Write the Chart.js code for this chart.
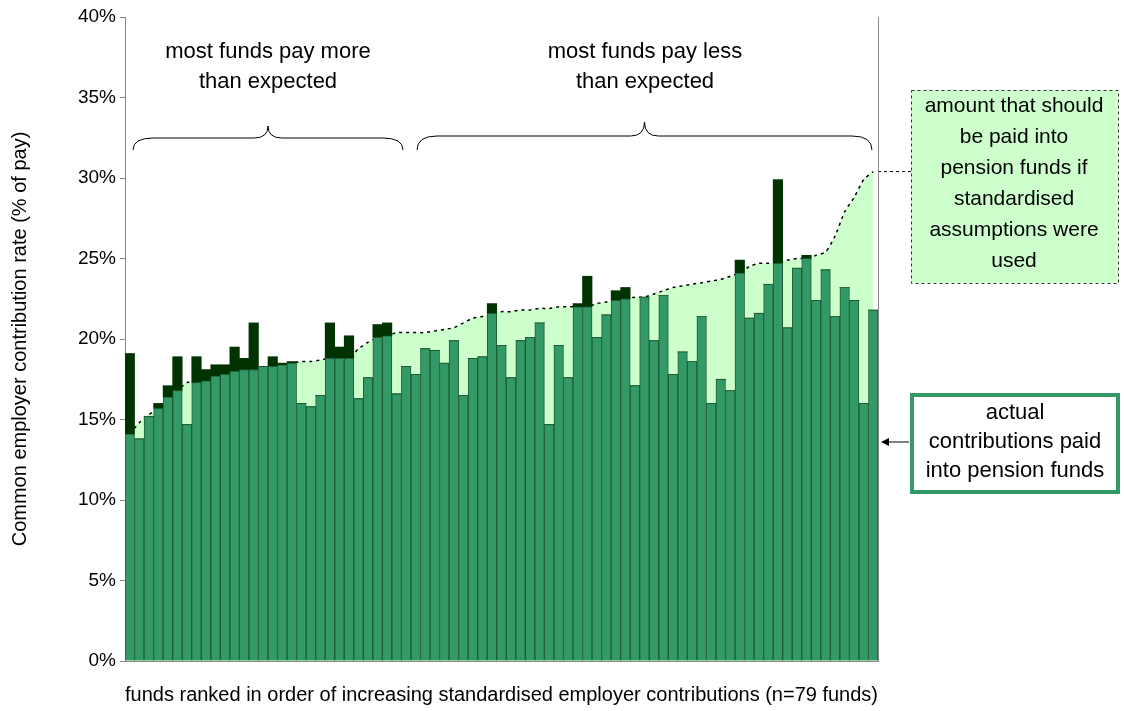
<!DOCTYPE html>
<html>
<head>
<meta charset="utf-8">
<script src="https://cdn.jsdelivr.net/npm/chart.js@4/dist/chart.umd.min.js"></script>
<style>
  html, body { margin: 0; padding: 0; background: #fff; }
  #wrap { width: 1124px; height: 711px; position: relative; }
</style>
</head>
<body>
<div id="wrap"><canvas id="chart"></canvas></div>
<script>
// standardised (expected) contribution per fund, ranked
const expected = [14.1, 14.8, 15.3, 15.7, 16.4, 16.8, 17.3, 17.3, 17.4, 17.7, 17.8, 18.0, 18.1, 18.1, 18.3, 18.3, 18.4, 18.5, 18.6, 18.6,
  18.7, 18.8, 18.8, 18.8, 19.4, 19.8, 20.1, 20.2, 20.4, 20.4, 20.4, 20.4, 20.5, 20.6, 20.7, 21.0, 21.3, 21.4, 21.6, 21.7,
  21.7, 21.8, 21.8, 21.9, 21.9, 22.0, 22.0, 22.0, 22.0, 22.2, 22.3, 22.4, 22.5, 22.6, 22.6, 22.8, 23.0, 23.2, 23.3, 23.4,
  23.5, 23.6, 23.7, 23.9, 24.1, 24.5, 24.7, 24.7, 24.7, 24.9, 25.0, 25.0, 25.2, 25.4, 26.4, 27.9, 28.8, 29.9, 30.4];

// actual contributions paid
const actual = [19.1, 13.8, 15.2, 16.0, 17.1, 18.9, 14.7, 18.9, 18.1, 18.4, 18.4, 19.5, 18.8, 21.0, 18.3, 18.9, 18.5, 18.6, 16.0, 15.8,
  16.5, 21.0, 19.5, 20.2, 16.3, 17.6, 20.9, 21.0, 16.6, 18.3, 17.8, 19.4, 19.3, 18.5, 19.9, 16.5, 18.8, 18.9, 22.2, 19.6,
  17.6, 19.9, 20.1, 21.0, 14.7, 19.6, 17.6, 22.2, 23.9, 20.1, 21.5, 23.0, 23.2, 17.1, 22.6, 19.9, 22.7, 17.8, 19.2, 18.6,
  21.4, 16.0, 17.5, 16.8, 24.9, 21.3, 21.6, 23.4, 29.9, 20.7, 24.4, 25.2, 22.4, 24.3, 21.4, 23.2, 22.4, 16.0, 21.8];

const labels = actual.map((v, i) => String(i + 1));
const yTicks = [0, 5, 10, 15, 20, 25, 30, 35, 40];

const covered = actual.map((a, i) => Math.min(a, expected[i]));
const excess = actual.map((a, i) => Math.max(0, +(a - expected[i]).toFixed(2)));

const FONT = 'Liberation Sans, Arial, sans-serif';

// braces, notes and side boxes
const notes = {
  id: 'notes',
  afterDraw(chart) {
    const c = chart.ctx;
    const area = chart.chartArea;
    const y = chart.scales.y;
    c.save();
    c.fillStyle = '#000';
    c.font = '22px ' + FONT;
    c.textAlign = 'center';
    c.textBaseline = 'middle';
    c.fillText('most funds pay more', 268, 52);
    c.fillText('than expected', 268, 82);
    c.fillText('most funds pay less', 645, 52);
    c.fillText('than expected', 645, 82);

    const brace = (x1, x2, top, bot) => {
      const m = (x1 + x2) / 2;
      const mid = (top + bot) / 2;
      c.beginPath();
      c.moveTo(x1, bot);
      c.quadraticCurveTo(x1, mid, x1 + 20, mid);
      c.lineTo(m - 14, mid);
      c.quadraticCurveTo(m, mid, m, top);
      c.quadraticCurveTo(m, mid, m + 14, mid);
      c.lineTo(x2 - 20, mid);
      c.quadraticCurveTo(x2, mid, x2, bot);
      c.stroke();
    };
    c.strokeStyle = '#000';
    c.lineWidth = 1;
    brace(133, 403, 126, 150);
    brace(417, 872, 122, 150);

    // dashed leader to the expected line
    const yExp = y.getPixelForValue(expected[expected.length - 1]);
    c.setLineDash([3, 3]);
    c.beginPath();
    c.moveTo(area.right, yExp);
    c.lineTo(911, yExp);
    c.stroke();

    // box 1
    c.fillStyle = '#ccffcc';
    c.fillRect(911, 90, 207, 193);
    c.strokeStyle = '#333';
    c.strokeRect(911.5, 90.5, 207, 193);
    c.setLineDash([]);
    c.fillStyle = '#000';
    c.font = '21px ' + FONT;
    ['amount that should', 'be paid into', 'pension funds if', 'standardised', 'assumptions were', 'used']
      .forEach((t, i) => c.fillText(t, 1014, 106 + i * 31));

    // box 2
    c.fillStyle = '#fff';
    c.fillRect(911, 394, 208, 99);
    c.strokeStyle = '#339966';
    c.lineWidth = 4;
    c.strokeRect(912, 395, 206, 97);
    c.fillStyle = '#000';
    c.font = '22px ' + FONT;
    ['actual', 'contributions paid', 'into pension funds']
      .forEach((t, i) => c.fillText(t, 1015, 413 + i * 29));

    // arrow
    c.strokeStyle = '#000';
    c.lineWidth = 1;
    c.beginPath();
    c.moveTo(909, 442);
    c.lineTo(886, 442);
    c.stroke();
    c.beginPath();
    c.moveTo(881, 442);
    c.lineTo(889, 438);
    c.lineTo(889, 446);
    c.closePath();
    c.fill();

    // right frame line
    c.strokeStyle = '#888';
    c.beginPath();
    c.moveTo(area.right + 0.5, area.top);
    c.lineTo(area.right + 0.5, area.bottom);
    c.stroke();
    c.restore();
  }
};

new Chart(document.getElementById('chart'), {
  data: {
    labels: labels,
    datasets: [
      {
        type: 'line',
        label: 'expected',
        data: expected,
        stack: 'exp',
        borderColor: '#000',
        borderWidth: 1.5,
        borderDash: [3, 4],
        backgroundColor: '#ccffcc',
        fill: 'origin',
        pointRadius: 0,
        tension: 0.2,
        order: 3
      },
      {
        type: 'bar',
        label: 'actual (covered)',
        data: covered,
        stack: 'act',
        backgroundColor: '#339966',
        borderColor: '#1c5c36',
        borderWidth: 1,
        categoryPercentage: 1,
        barPercentage: 1,
        order: 1
      },
      {
        type: 'bar',
        label: 'actual (excess)',
        data: excess,
        stack: 'act',
        backgroundColor: '#003300',
        borderColor: '#003300',
        borderWidth: 0,
        categoryPercentage: 1,
        barPercentage: 1,
        order: 1
      }
    ]
  },
  options: {
    responsive: true,
    maintainAspectRatio: false,
    animation: false,
    layout: { padding: { left: 8, right: 246, top: 17, bottom: 0 } },
    plugins: { legend: { display: false }, tooltip: { enabled: false } },
    scales: {
      x: {
        stacked: true,
        offset: true,
        grid: { display: false },
        border: { color: '#888' },
        ticks: { display: false },
        title: {
          display: true,
          text: 'funds ranked in order of increasing standardised employer contributions (n=79 funds)',
          color: '#000',
          font: { family: FONT, size: 20 },
          padding: { top: 12 }
        },
        afterFit: s => { s.height = 50; }
      },
      y: {
        stacked: true,
        min: 0,
        max: 40,
        afterBuildTicks: s => { s.ticks = yTicks.map(v => ({ value: v })); },
        grid: { display: true, drawOnChartArea: false, drawTicks: true, tickLength: 5, color: '#888' },
        border: { color: '#888' },
        ticks: {
          color: '#000',
          font: { family: FONT, size: 19 },
          padding: 4,
          callback: v => v + '%'
        },
        title: {
          display: true,
          text: 'Common employer contribution rate (% of pay)',
          color: '#000',
          font: { family: FONT, size: 20 },
          padding: { top: 0, bottom: 0 }
        },
        afterFit: s => { s.width = 117; }
      }
    }
  },
  plugins: [notes]
});
</script>
</body>
</html>
